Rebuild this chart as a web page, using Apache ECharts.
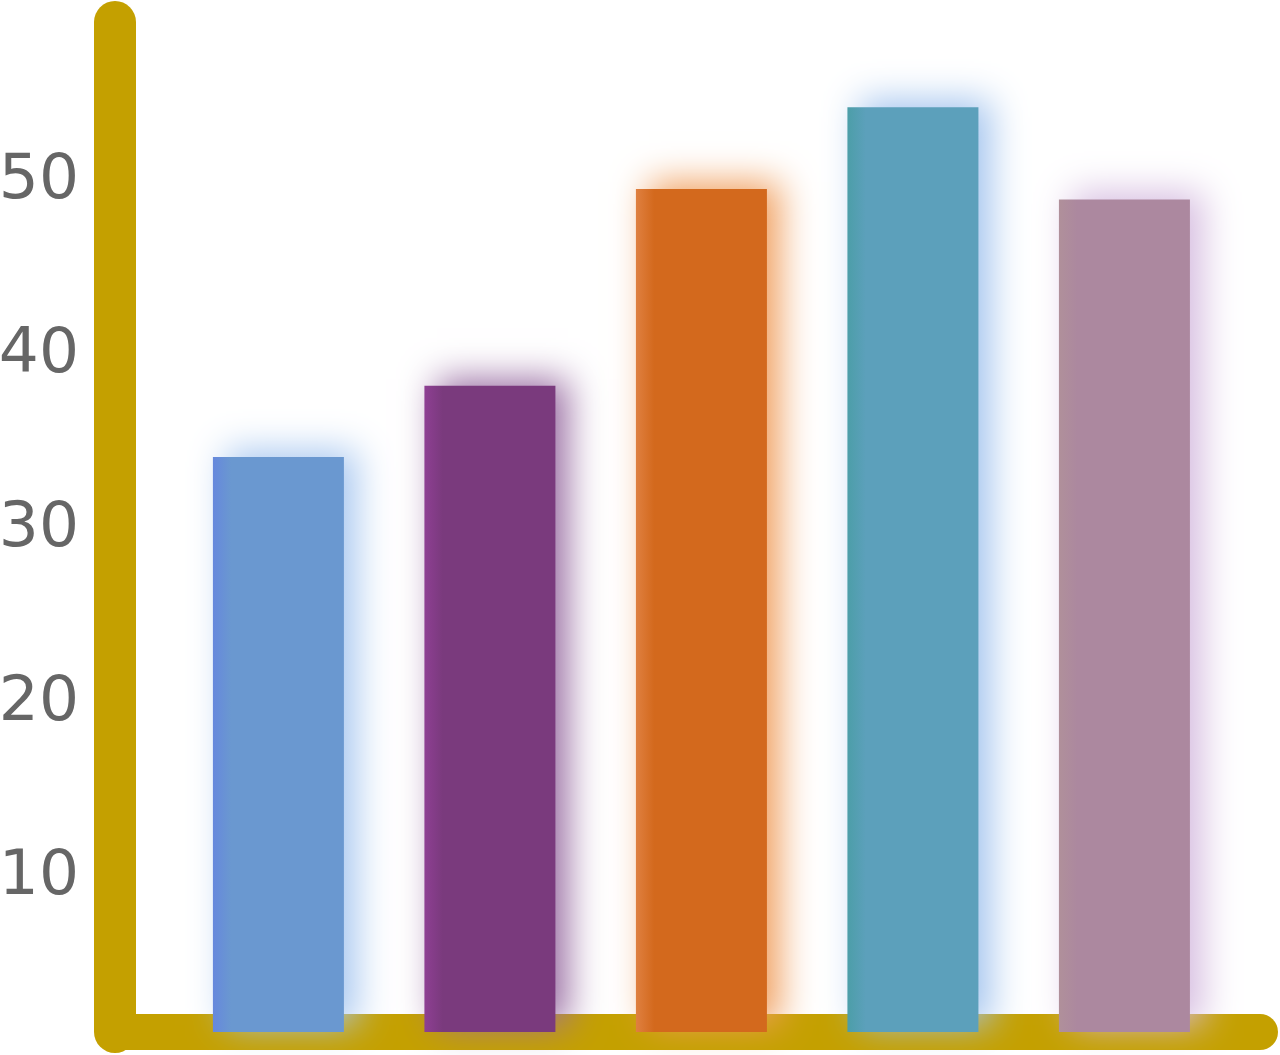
<!DOCTYPE html>
<html lang="en">
<head>
    <meta charset="UTF-8">
    <title>Bars</title>
    <script src="https://cdn.jsdelivr.net/npm/echarts@6/dist/echarts.min.js"></script>
    <style>
        html, body { margin: 0; padding: 0; background: #fff; }
        #main { width: 1280px; height: 1055px; }
    </style>
</head>
<body>
<div id="main"></div>
</body>
<script>
    // data
    var categories = ["1", "2", "3", "4", "5"];
    var values = [34.2, 38.3, 49.6, 54.3, 49.0];
    var yTickLabels = [10, 20, 30, 40, 50];

    // bar colours: main, left edge, glow
    var barColors = ["#6a98d0", "#7a3a7d", "#d3691d", "#5ca0bb", "#ac889f"];
    var edgeColors = ["#6688dd", "#8e3f93", "#df8040", "#4c9ea8", "#b0909a"];
    var glowColors = ["#a9c8f0", "#9a6fa3", "#f0a060", "#a3c4ee", "#d6bde0"];

    var gold = "#c4a000";

    var MyChart = echarts.init(document.getElementById("main"));

    var seriesData = values.map(function (v, i) {
        return {
            name: categories[i],
            value: [i, v],
            itemStyle: {
                color: new echarts.graphic.LinearGradient(0, 0, 1, 0, [
                    {offset: 0, color: edgeColors[i]},
                    {offset: 0.14, color: barColors[i]},
                    {offset: 1, color: barColors[i]}
                ]),
                shadowColor: glowColors[i],
                shadowBlur: 34,
                shadowOffsetX: 13,
                shadowOffsetY: -7
            }
        };
    });

    var option = {
        backgroundColor: "#ffffff",
        animation: false,
        grid: {left: 115, right: 20, top: 22, bottom: 23, containLabel: false, outerBoundsMode: "none"},
        xAxis: {
            type: "value",
            min: -0.7726,
            max: 4.641,
            axisLine: {
                show: true,
                onZero: false,
                lineStyle: {color: gold, width: 36, cap: "round"}
            },
            axisTick: {show: false},
            axisLabel: {show: false},
            splitLine: {show: false}
        },
        yAxis: {
            type: "value",
            min: 1.15,
            max: 59.2,
            axisLine: {
                show: true,
                onZero: false,
                lineStyle: {color: gold, width: 42, cap: "round"}
            },
            axisTick: {show: false},
            splitLine: {show: false},
            axisLabel: {
                margin: 36,
                color: "#666666",
                fontSize: 63,
                fontFamily: "DejaVu Sans",
                formatter: function (v) {
                    return yTickLabels.indexOf(v) >= 0 ? String(v) : "";
                }
            }
        },
        series: [{
            name: "bars",
            type: "bar",
            barWidth: 131,
            clip: true,
            data: seriesData
        }]
    };
    MyChart.setOption(option);
</script>
</html>
